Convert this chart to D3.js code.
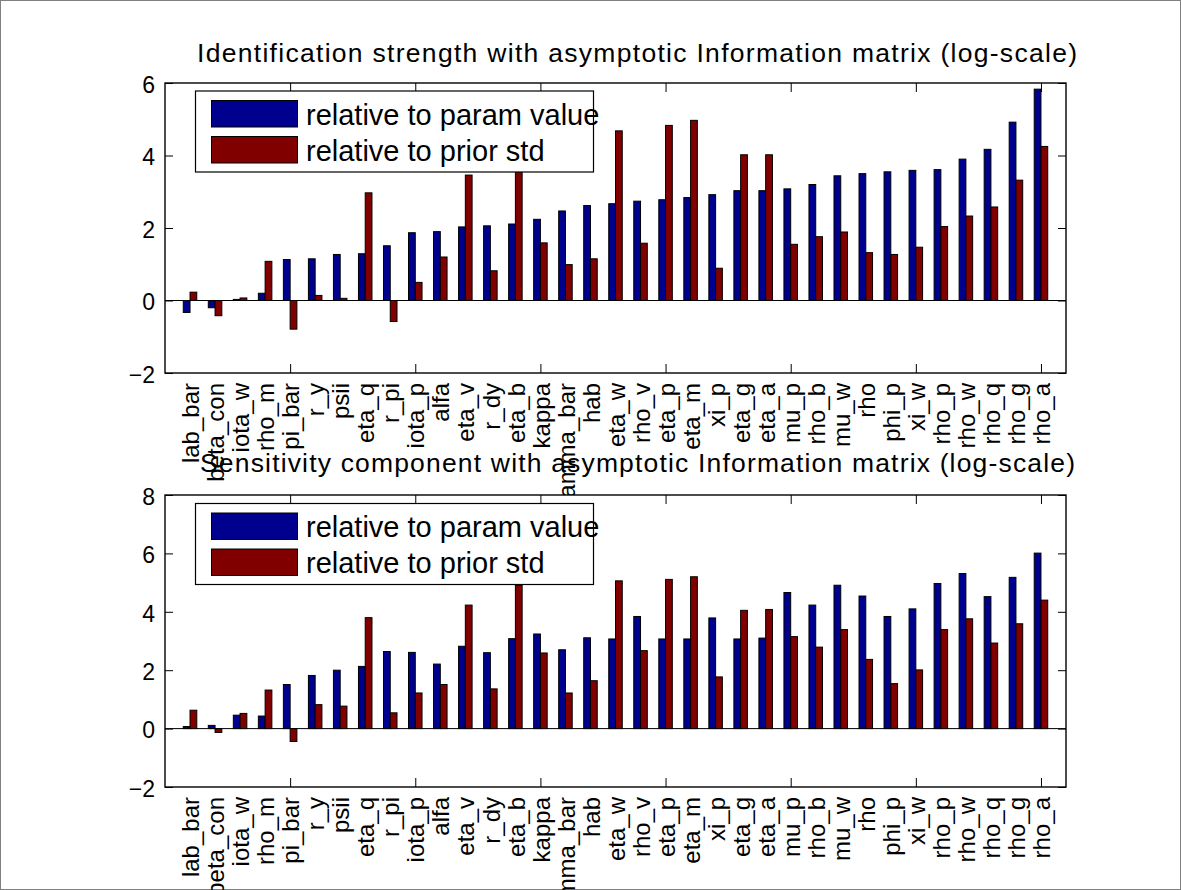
<!DOCTYPE html>
<html>
<head>
<meta charset="utf-8">
<script src="https://cdn.jsdelivr.net/npm/d3@7"></script>
<style>
  html, body { margin: 0; padding: 0; background: #fff; }
  svg { display: block; font-family: "Liberation Sans", Arial, sans-serif; }
</style>
</head>
<body>
<svg id="fig" width="1181" height="890"></svg>
<script>
// Parameter names, ordered by identification strength
const categories = ["lab_bar","beta_con","iota_w","rho_m","pi_bar","r_y","psii","eta_q","r_pi","iota_p",
  "alfa","eta_v","r_dy","eta_b","kappa","gamma_bar","hab","eta_w","rho_v","eta_p",
  "eta_m","xi_p","eta_g","eta_a","mu_p","rho_b","mu_w","rho","phi_p","xi_w",
  "rho_p","rho_w","rho_q","rho_g","rho_a"];

// Identification strength (log-scale)
const identParam = [-0.33,-0.20,0.03,0.20,1.13,1.15,1.27,1.29,1.51,1.87,
  1.90,2.03,2.06,2.11,2.24,2.47,2.62,2.67,2.74,2.78,
  2.84,2.92,3.03,3.03,3.08,3.20,3.44,3.50,3.55,3.59,
  3.61,3.90,4.17,4.92,5.83];
const identPrior = [0.23,-0.42,0.07,1.08,-0.79,0.14,0.06,2.97,-0.58,0.50,
  1.20,3.46,0.82,3.55,1.59,0.99,1.15,4.68,1.58,4.83,
  4.97,0.89,4.02,4.02,1.55,1.76,1.89,1.32,1.27,1.47,
  2.04,2.33,2.58,3.32,4.25];

// Sensitivity component (log-scale)
const sensParam = [0.07,0.11,0.46,0.43,1.51,1.82,2.00,2.13,2.64,2.61,
  2.21,2.82,2.60,3.08,3.24,2.70,3.11,3.07,3.84,3.07,
  3.07,3.79,3.07,3.10,4.66,4.23,4.91,4.54,3.84,4.10,
  4.97,5.31,4.52,5.18,6.01];
const sensPrior = [0.63,-0.13,0.52,1.32,-0.44,0.82,0.77,3.80,0.54,1.22,
  1.51,4.23,1.36,4.90,2.59,1.22,1.64,5.06,2.67,5.11,
  5.20,1.77,4.05,4.08,3.15,2.79,3.39,2.37,1.54,2.01,
  3.39,3.76,2.93,3.59,4.40];

const seriesNames = ["relative to param value", "relative to prior std"];
const topTicks = [-2, 0, 2, 4, 6];
const bottomTicks = [-2, 0, 2, 4, 6, 8];
const xMarkTicks = [5, 10, 15, 20, 25, 30, 35];

const titles = [
  "Identification strength with asymptotic Information matrix (log-scale)",
  "Sensitivity component with asymptotic Information matrix (log-scale)"
];

const colors = ["#00008f", "#800000"];
const svg = d3.select("#fig");

// figure frame
svg.append("rect").attr("x", 0.5).attr("y", 0.5).attr("width", 1180).attr("height", 889)
  .attr("fill", "#fff").attr("stroke", "#808080");

function panel(opts) {
  const { top, bottom, yDomain, yTicks, values, title, titleY, titleX, titleLen, legendTop } = opts;
  const left = 165, right = 1066;
  const x = d3.scaleLinear().domain([0, categories.length + 1]).range([left, right]);
  const y = d3.scaleLinear().domain(yDomain).range([bottom, top]);
  const g = svg.append("g");

  // axes background
  g.append("rect").attr("x", left).attr("y", top)
    .attr("width", right - left).attr("height", bottom - top).attr("fill", "#fff");

  // grouped bars
  const barW = 0.27;
  values.forEach((vals, s) => {
    g.append("g").selectAll("rect").data(vals).join("rect")
      .attr("x", (d, i) => x(i + 1 + (s === 0 ? -barW : 0)))
      .attr("width", x(barW) - x(0))
      .attr("y", d => y(Math.max(0, d)))
      .attr("height", d => Math.abs(y(d) - y(0)))
      .attr("fill", colors[s])
      .attr("stroke", "#000").attr("stroke-width", 1);
  });

  // bar baseline
  g.append("line").attr("x1", left).attr("x2", right)
    .attr("y1", y(0)).attr("y2", y(0)).attr("stroke", "#000").attr("stroke-width", 1);

  // y axis: inward ticks on left and right
  const yl = g.append("g").attr("transform", `translate(${left},0)`)
    .call(d3.axisLeft(y).tickValues(yTicks).tickSize(-8).tickSizeOuter(0).tickPadding(10).tickFormat(d3.format("d")));
  yl.select(".domain").remove();
  yl.selectAll("text").attr("font-size", 23).attr("fill", "#000").attr("dy", "0.4em")
    .attr("font-family", "Liberation Sans, Arial, sans-serif");
  yl.selectAll("line").attr("stroke", "#000");
  const yr = g.append("g").attr("transform", `translate(${right},0)`)
    .call(d3.axisRight(y).tickValues(yTicks).tickSize(-8).tickSizeOuter(0).tickFormat(""));
  yr.select(".domain").remove();
  yr.selectAll("line").attr("stroke", "#000");

  // x tick marks on bottom and top
  const xb = g.append("g").attr("transform", `translate(0,${bottom})`)
    .call(d3.axisBottom(x).tickValues(xMarkTicks).tickSize(-9).tickSizeOuter(0).tickFormat(""));
  xb.select(".domain").remove();
  xb.selectAll("line").attr("stroke", "#000");
  const xt = g.append("g").attr("transform", `translate(0,${top})`)
    .call(d3.axisTop(x).tickValues(xMarkTicks).tickSize(-9).tickSizeOuter(0).tickFormat(""));
  xt.select(".domain").remove();
  xt.selectAll("line").attr("stroke", "#000");

  // frame
  g.append("rect").attr("x", left).attr("y", top)
    .attr("width", right - left).attr("height", bottom - top)
    .attr("fill", "none").attr("stroke", "#000").attr("stroke-width", 1.4);

  // vertical category labels
  const xl = g.append("g").attr("transform", `translate(0,${bottom})`)
    .call(d3.axisBottom(x).tickValues(d3.range(1, categories.length + 1)).tickSize(0)
      .tickFormat(i => categories[i - 1]));
  xl.select(".domain").remove();
  xl.selectAll("text")
    .attr("transform", "rotate(-90)")
    .attr("x", -10).attr("y", 0).attr("dy", "0.36em")
    .attr("text-anchor", "end")
    .attr("font-size", 24).attr("fill", "#000")
    .attr("font-family", "Liberation Sans, Arial, sans-serif");

  // legend
  const lg = g.append("g");
  lg.append("rect").attr("x", 195.5).attr("y", legendTop)
    .attr("width", 398).attr("height", 81)
    .attr("fill", "#fff").attr("stroke", "#000").attr("stroke-width", 1.2);
  seriesNames.forEach((name, s) => {
    const ry = legendTop + 9.5 + s * 36;
    lg.append("rect").attr("x", 211.5).attr("y", ry).attr("width", 86).attr("height", 26.5)
      .attr("fill", colors[s]).attr("stroke", "#000").attr("stroke-width", 1);
    lg.append("text").attr("x", 306).attr("y", ry + 24)
      .attr("font-size", 29).attr("fill", "#000").text(name);
  });

  return { titleX, titleY, titleLen, title };
}

const t1 = panel({ top: 83, bottom: 373, yDomain: [-2, 6], yTicks: topTicks,
  values: [identParam, identPrior], title: titles[0], titleX: 197, titleY: 62, titleLen: 880, legendTop: 91 });
const t2 = panel({ top: 495, bottom: 787, yDomain: [-2, 8], yTicks: bottomTicks,
  values: [sensParam, sensPrior], title: titles[1], titleX: 200, titleY: 472, titleLen: 875, legendTop: 503.5 });

// panel titles
[t1, t2].forEach(t => {
  svg.append("text").attr("x", t.titleX).attr("y", t.titleY)
    .attr("font-size", 26.5).attr("fill", "#000")
    .attr("textLength", t.titleLen).attr("lengthAdjust", "spacing")
    .text(t.title);
});
</script>
</body>
</html>
